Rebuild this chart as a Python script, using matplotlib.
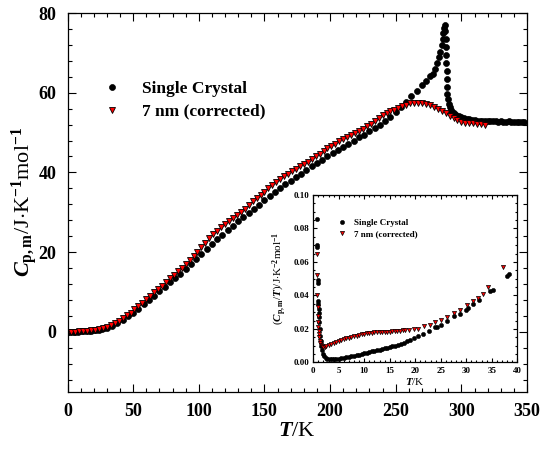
import matplotlib
matplotlib.use('Agg')
import matplotlib.pyplot as plt
from matplotlib.ticker import MultipleLocator, FormatStrFormatter

plt.rcParams['font.family'] = ['Liberation Serif', 'DejaVu Serif']
plt.rcParams['font.weight'] = 'bold'
plt.rcParams['mathtext.fontset'] = 'custom'
plt.rcParams['mathtext.rm'] = 'Liberation Serif:weight=bold'
plt.rcParams['mathtext.it'] = 'Liberation Serif:style=italic:weight=bold'
plt.rcParams['mathtext.bf'] = 'Liberation Serif:weight=bold'
plt.rcParams['axes.unicode_minus'] = False

# main panel: Cp,m vs T
t_sc = [0, 2, 4, 6, 8, 10, 12, 14, 16, 18, 20, 22, 24, 26, 28, 30, 34, 38, 42, 46,
        50, 54, 58, 62, 66, 70, 74, 78, 82, 86, 90, 94, 98, 102, 106, 110, 114, 118,
        122, 126, 130, 134, 138, 142, 146, 150, 154, 158, 162, 166, 170, 174, 178,
        182, 186, 190, 194, 198, 202, 206, 210, 214, 218, 222, 226, 230, 234, 238,
        242, 246, 250, 254, 258, 262, 266, 270, 273, 276, 278, 280, 281.5, 283, 284,
        285, 285.7, 286.3, 286.8, 287.2, 287.6, 287.9, 288.1, 288.3, 288.5, 288.7,
        288.9, 289.1, 289.4, 289.8, 290.3, 291, 292, 293, 294.5, 296, 298, 300, 302,
        304, 306, 308, 310, 312, 314, 316, 318, 320, 322, 324, 326, 328, 330, 332,
        334, 336, 338, 340, 342, 344, 346, 348]
cp_sc = [0, 0, 0.01, 0.02, 0.04, 0.07, 0.1, 0.15, 0.2, 0.27, 0.35, 0.45, 0.56, 0.7,
         0.85, 1.0, 1.5, 2.2, 3.0, 3.9, 4.8, 5.8, 6.9, 8.0, 9.1, 10.2, 11.3, 12.4,
         13.5, 14.6, 15.7, 16.9, 18.2, 19.5, 20.8, 22.0, 23.2, 24.4, 25.5, 26.6, 27.7,
         28.7, 29.7, 30.8, 31.9, 33.0, 34.0, 35.1, 36.1, 37.0, 37.9, 38.8, 39.7, 40.6,
         41.5, 42.3, 43.2, 44.0, 44.8, 45.6, 46.4, 47.2, 48.0, 48.8, 49.5, 50.3, 51.1,
         52.0, 52.9, 53.9, 55.1, 56.3, 57.6, 59.2, 60.5, 61.9, 63.0, 64.1, 64.8, 66.0,
         67.5, 69.0, 70.3, 72.0, 73.5, 75.0, 76.2, 77.0, 75.5, 73.5, 71.5, 69.5, 67.5,
         65.5, 63.5, 61.5, 59.8, 58.3, 57.2, 56.4, 55.7, 55.2, 54.8, 54.5, 54.2, 53.9,
         53.7, 53.5, 53.3, 53.2, 53.1, 53.0, 52.9, 52.9, 52.8, 52.9, 52.8, 52.8, 52.8,
         52.7, 52.8, 52.7, 52.7, 52.8, 52.7, 52.7, 52.6, 52.7, 52.6, 52.6]

t_7nm = [0, 3, 6, 9, 12, 15, 18, 21, 24, 27, 30, 33, 36, 39, 42, 45, 48, 51, 54, 57,
         60, 63, 66, 69, 72, 75, 78, 81, 84, 87, 90, 93, 96, 99, 102, 105, 108, 111,
         114, 117, 120, 123, 126, 129, 132, 135, 138, 141, 144, 147, 150, 153, 156,
         159, 162, 165, 168, 171, 174, 177, 180, 183, 186, 189, 192, 195, 198, 201,
         204, 207, 210, 213, 216, 219, 222, 225, 228, 231, 234, 237, 240, 243, 246,
         249, 252, 255, 258, 261, 264, 267, 270, 273, 276, 279, 282, 285, 288, 291,
         294, 297, 300, 303, 306, 309, 312, 315, 318]
cp_7nm = [0, 0.01, 0.04, 0.08, 0.15, 0.24, 0.36, 0.52, 0.7, 0.9, 1.1, 1.6, 2.2, 2.8,
          3.4, 4.1, 4.8, 5.6, 6.4, 7.3, 8.1, 9.0, 9.9, 10.7, 11.6, 12.5, 13.4, 14.3,
          15.2, 16.1, 17.1, 18.1, 19.1, 20.1, 21.2, 22.4, 23.5, 24.5, 25.4, 26.2, 27.0,
          27.8, 28.5, 29.3, 30.1, 30.9, 31.8, 32.7, 33.6, 34.4, 35.2, 36.0, 36.8, 37.5,
          38.3, 39.0, 39.7, 40.3, 40.9, 41.5, 42.1, 42.7, 43.3, 44.0, 44.7, 45.4, 46.0,
          46.6, 47.2, 47.8, 48.4, 48.9, 49.5, 50.0, 50.5, 51.0, 51.6, 52.2, 52.9, 53.6,
          54.3, 54.8, 55.3, 55.7, 56.2, 56.6, 57.0, 57.3, 57.5, 57.5, 57.3, 57.2, 56.9,
          56.5, 56.0, 55.5, 54.9, 54.2, 53.6, 53.1, 52.7, 52.5, 52.4, 52.3, 52.2, 52.1,
          52.0]

# inset: Cp,m/T vs T at low temperature
ti_sc = [0.7, 0.75, 0.8, 0.85, 0.9, 0.95, 1.0, 1.05, 1.1, 1.15, 1.2, 1.3, 1.4, 1.5,
         1.6, 1.8, 2.0, 2.2, 2.5, 2.8, 3.2, 3.6, 4.0, 4.5, 5.0, 5.5, 6.0, 6.5, 7.0,
         7.5, 8.0, 8.5, 9.0, 9.5, 10.0, 10.5, 11.0, 11.5, 12.0, 12.5, 13.0, 13.5,
         14.0, 14.5, 15.0, 15.5, 16.0, 16.6, 17.2, 17.8, 18.4, 19.0, 19.8, 20.6, 21.6,
         22.7, 23.9, 24.3, 25.0, 26.2, 27.5, 28.8, 30.0, 30.3, 31.4, 32.4, 34.7, 35.2,
         37.9, 38.3]
ci_sc = [0.0855, 0.070, 0.0687, 0.049, 0.0475, 0.037, 0.035, 0.032, 0.0295, 0.027,
         0.024, 0.020, 0.016, 0.013, 0.010, 0.0072, 0.005, 0.0038, 0.0028, 0.0022,
         0.0019, 0.0018, 0.0018, 0.002, 0.0023, 0.0026, 0.0029, 0.0032, 0.0035,
         0.0038, 0.0041, 0.0044, 0.0047, 0.0051, 0.0055, 0.0058, 0.0062, 0.0066,
         0.007, 0.0073, 0.0077, 0.0081, 0.0085, 0.0088, 0.0092, 0.0096, 0.010, 0.0105,
         0.011, 0.0118, 0.0126, 0.0137, 0.0147, 0.016, 0.017, 0.019, 0.021, 0.0211,
         0.0226, 0.0246, 0.0276, 0.029, 0.0315, 0.0325, 0.035, 0.0375, 0.0424, 0.0434,
         0.0514, 0.0528]

ti_7nm = [0.7, 0.75, 0.8, 0.85, 0.9, 0.95, 1.0, 1.05, 1.1, 1.2, 1.3, 1.4, 1.5, 1.7,
          2.0, 2.3, 2.6, 3.0, 3.5, 4.0, 4.5, 5.0, 5.5, 6.0, 6.5, 7.0, 7.5, 8.0, 8.5,
          9.0, 9.5, 10.0, 10.5, 11.0, 11.5, 12.0, 12.5, 13.0, 13.5, 14.0, 14.5, 15.0,
          15.5, 16.0, 16.5, 17.0, 17.5, 18.0, 18.7, 19.7, 20.6, 21.7, 22.8, 23.9, 25.0,
          26.2, 27.5, 28.8, 30.1, 31.3, 32.3, 33.3, 34.2, 37.1]
ci_7nm = [0.065, 0.052, 0.040, 0.033, 0.028, 0.024, 0.021, 0.019, 0.017, 0.015,
          0.013, 0.0115, 0.0105, 0.0098, 0.0095, 0.0095, 0.0097, 0.0102, 0.011,
          0.0116, 0.0122, 0.0128, 0.0134, 0.014, 0.0145, 0.0149, 0.0153, 0.0157,
          0.016, 0.0164, 0.0168, 0.0172, 0.0175, 0.0177, 0.0178, 0.0179, 0.018, 0.018,
          0.0181, 0.0182, 0.0183, 0.0184, 0.0185, 0.0187, 0.0188, 0.019, 0.0192,
          0.0194, 0.0196, 0.0198, 0.0202, 0.0216, 0.0226, 0.024, 0.0256, 0.027, 0.0296,
          0.0316, 0.0345, 0.037, 0.0385, 0.041, 0.045, 0.0569]


def style_axis(ax, size, major, minor, pad):
    ax.tick_params(which='both', direction='in', top=True, right=True,
                   width=0.8, labelsize=size, pad=pad)
    ax.tick_params(which='major', length=major)
    ax.tick_params(which='minor', length=minor)
    for s in ax.spines.values():
        s.set_linewidth(0.9)


fig = plt.figure(figsize=(5.4, 4.49), dpi=100)
ax = fig.add_axes([0.125, 0.128, 0.851, 0.843])

ax.plot(t_sc, cp_sc, 'o', ms=4.3, mfc='black', mec='black', mew=0.5,
        label='Single Crystal')
ax.plot(t_7nm, cp_7nm, 'v', ms=4.0, mfc='red', mec='black', mew=0.6,
        label='7 nm (corrected)')

ax.set_xlim(0, 350)
ax.set_ylim(-15, 80)
ax.xaxis.set_major_locator(MultipleLocator(50))
ax.xaxis.set_minor_locator(MultipleLocator(10))
ax.yaxis.set_major_locator(MultipleLocator(20))
ax.yaxis.set_minor_locator(MultipleLocator(4))
style_axis(ax, 13, 6, 3, 8)
ax.set_xlabel(r'$T$/K', fontsize=16, labelpad=2)
ax.set_ylabel(r'$C_{\rm p,m}$/J$\cdot$K$^{-1}$mol$^{-1}$', fontsize=16)
ax.yaxis.set_label_coords(-0.06, 0.5)

ax.legend(loc='upper left', bbox_to_anchor=(0.063, 0.84), frameon=False,
          fontsize=12.5, handlelength=1.0, handletextpad=1.2, labelspacing=0.4,
          borderaxespad=0)

# inset
ins = fig.add_axes([0.580, 0.1927, 0.378, 0.373])
ins.plot(ti_sc, ci_sc, 'o', ms=3.0, mfc='black', mec='black', mew=0.4,
         label='Single Crystal')
ins.plot(ti_7nm, ci_7nm, 'v', ms=3.0, mfc='red', mec='black', mew=0.5,
         label='7 nm (corrected)')
ins.set_xlim(0, 40)
ins.set_ylim(0, 0.1)
ins.xaxis.set_major_locator(MultipleLocator(5))
ins.xaxis.set_minor_locator(MultipleLocator(1))
ins.yaxis.set_major_locator(MultipleLocator(0.02))
ins.yaxis.set_minor_locator(MultipleLocator(0.005))
ins.yaxis.set_major_formatter(FormatStrFormatter('%.2f'))
style_axis(ins, 6.5, 3, 1.5, 3)
ins.set_xlabel(r'$T$/K', fontsize=8, labelpad=1)
ins.set_ylabel(r'($C_{\rm p,m}$/$T$)/J$\cdot$K$^{-2}$mol$^{-1}$', fontsize=8, labelpad=3)
ins.legend(loc='upper left', bbox_to_anchor=(0.1, 0.88), frameon=False,
           fontsize=6.5, handlelength=1.0, handletextpad=0.9, labelspacing=0.3,
           borderaxespad=0)

fig.savefig('out.png', dpi=100)
